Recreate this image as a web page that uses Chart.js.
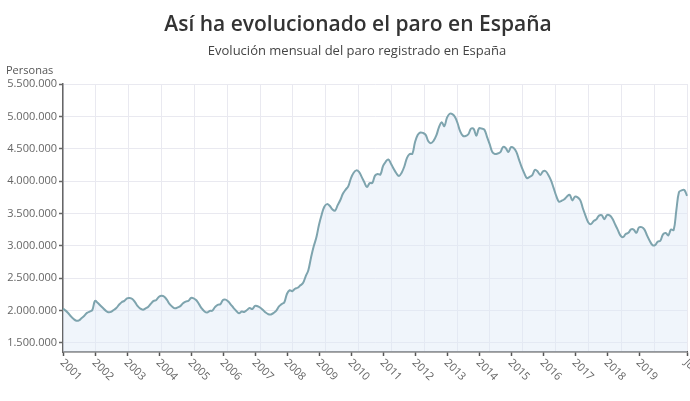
<!DOCTYPE html>
<html lang="es">
<head>
<meta charset="utf-8">
<script src="https://cdn.jsdelivr.net/npm/chart.js@4.4.1/dist/chart.umd.min.js"></script>
<style>
  html, body { margin: 0; padding: 0; background: #ffffff; }
  #wrap { position: relative; width: 690px; height: 401px; overflow: hidden; font-family: "Open Sans", "DejaVu Sans", sans-serif; }
  #c { position: absolute; left: 0; top: 0; }
  .title { position: absolute; left: 358px; top: 9px; transform: translateX(-50%); white-space: nowrap;
           font-size: 21px; line-height: 28px; font-weight: 600; color: #333; }
  .subtitle { position: absolute; left: 357px; top: 41px; transform: translateX(-50%); white-space: nowrap;
              font-size: 13px; line-height: 18px; color: #444; }
  .unit { position: absolute; left: 6px; top: 62px; font-size: 11px; line-height: 15px; color: #555; }
</style>
</head>
<body>
<div id="wrap">
  <canvas id="c" width="740" height="401"></canvas>
  <div class="title">Así ha evolucionado el paro en España</div>
  <div class="subtitle">Evolución mensual del paro registrado en España</div>
  <div class="unit">Personas</div>
</div>
<script>
// Paro registrado mensual (miles de personas), enero 2001 - julio 2020
const years = [2001,2002,2003,2004,2005,2006,2007,2008,2009,2010,2011,2012,2013,2014,2015,2016,2017,2018,2019,2020];
const monthNames = ['ene','feb','mar','abr','may','jun','jul','ago','sep','oct','nov','dic'];

const paro2001_2007 = [
  2030, 2000, 1960, 1910, 1870, 1845, 1850, 1885, 1920, 1965, 1985, 2010,
  2150, 2120, 2080, 2040, 2000, 1975, 1980, 2010, 2040, 2090, 2130, 2150,
  2190, 2195, 2180, 2130, 2070, 2030, 2015, 2035, 2060, 2110, 2150, 2165,
  2215, 2230, 2215, 2165, 2100, 2060, 2035, 2050, 2070, 2115, 2140, 2150,
  2195, 2190, 2160, 2100, 2035, 1990, 1970, 1995, 2000, 2055, 2090, 2100,
  2165, 2170, 2140, 2090, 2040, 1995, 1960, 1985, 1980, 2010, 2040, 2025,
  2075, 2067, 2045, 2010, 1970, 1945, 1940, 1965, 2000, 2065, 2100, 2130
];
const paro2008_2013 = [
  2261, 2315, 2300, 2338, 2353, 2390, 2426, 2530, 2625, 2818, 2989, 3128,
  3327, 3481, 3605, 3645, 3620, 3565, 3544, 3629, 3709, 3808, 3869, 3923,
  4048, 4130, 4166, 4142, 4066, 3982, 3908, 3969, 3972, 4085, 4110, 4100,
  4231, 4299, 4334, 4270, 4190, 4122, 4080, 4131, 4226, 4360, 4420, 4422,
  4599, 4712, 4751, 4744, 4714, 4615, 4587, 4626, 4705, 4833, 4908, 4849,
  4980, 5040, 5035, 4989, 4890, 4763, 4699, 4698, 4724, 4811, 4808, 4701
];
const paro2014_2020 = [
  4814, 4812, 4795, 4684, 4572, 4449, 4419, 4427, 4447, 4526, 4512, 4448,
  4525, 4512, 4452, 4333, 4215, 4120, 4046, 4067, 4094, 4176, 4149, 4094,
  4151, 4153, 4094, 4011, 3891, 3767, 3683, 3697, 3721, 3764, 3789, 3702,
  3760, 3750, 3702, 3573, 3461, 3362, 3336, 3383, 3410, 3467, 3474, 3413,
  3476, 3470, 3422, 3335, 3252, 3162, 3135, 3182, 3202, 3254, 3252, 3202,
  3285, 3289, 3255, 3163, 3079, 3015, 3011, 3065, 3079, 3177, 3198, 3163,
  3253, 3246, 3549, 3831, 3857, 3862, 3773
];
const paro = paro2001_2007.concat(paro2008_2013, paro2014_2020);

// month categories
const months = [];
years.forEach(y => monthNames.forEach(m => months.push(m + ' ' + y)));
months.length = paro.length;

// x tick labels (year starts + last month)
const xTickLabels = ['2001','2002','2003','2004','2005','2006','2007','2008','2009','2010',
                     '2011','2012','2013','2014','2015','2016','2017','2018','2019','Jul 2020'];
const xTickIndex = xTickLabels.map((l, i) => i < xTickLabels.length - 1 ? i * 12 : paro.length - 1);

// y ticks (miles)
const yTicks = [1500, 2000, 2500, 3000, 3500, 4000, 4500, 5000, 5500];

function fmt(v) {
  return String(Math.round(v * 1000)).replace(/\B(?=(\d{3})+(?!\d))/g, '.');
}

const rotLabels = {
  id: 'rotLabels',
  afterDraw(chart) {
    const sc = chart.scales.x;
    const ctx = chart.ctx;
    ctx.save();
    ctx.font = '11px "Open Sans", "DejaVu Sans", sans-serif';
    ctx.fillStyle = '#666';
    ctx.textAlign = 'left';
    ctx.textBaseline = 'middle';
    xTickIndex.forEach((idx, i) => {
      const px = sc.getPixelForValue(idx);
      ctx.save();
      ctx.translate(px - 1, sc.top + 9);
      ctx.rotate(Math.PI / 4);
      ctx.fillText(xTickLabels[i], 0, 0);
      ctx.restore();
    });
    ctx.restore();
  }
};

new Chart(document.getElementById('c'), {
  type: 'line',
  data: {
    labels: months,
    datasets: [{
      data: paro,
      borderColor: '#7ea4ae',
      borderWidth: 2,
      backgroundColor: 'rgba(222,233,246,0.45)',
      fill: 'start',
      tension: 0.4,
      pointRadius: 0,
      pointHoverRadius: 0
    }]
  },
  options: {
    responsive: false,
    devicePixelRatio: 1,
    animation: false,
    layout: { padding: { left: 0, top: 84, right: 53, bottom: 29 } },
    plugins: { legend: { display: false }, tooltip: { enabled: false }, title: { display: false } },
    scales: {
      x: {
        type: 'category',
        offset: false,
        position: 'bottom',
        afterBuildTicks: (s) => { s.ticks = xTickIndex.map(v => ({ value: v })); },
        afterFit: (s) => { s.height = 20; },
        ticks: { display: false, autoSkip: false },
        grid: { drawOnChartArea: false, drawTicks: true, tickLength: 4, tickColor: '#555', tickWidth: 1.5 },
        border: { display: true, color: '#555', width: 1.5 }
      },
      xg: {
        type: 'linear',
        position: 'top',
        min: 0,
        max: 19,
        afterBuildTicks: (s) => { s.ticks = years.slice(0, 20).map((y, i) => ({ value: i })); },
        afterFit: (s) => { s.height = 0; },
        ticks: { display: false },
        grid: { drawOnChartArea: true, drawTicks: false, color: '#e9e9f0', lineWidth: 1 },
        border: { display: false }
      },
      y: {
        type: 'linear',
        min: 1361,
        max: 5500,
        afterBuildTicks: (s) => { s.ticks = yTicks.map(v => ({ value: v })); },
        afterFit: (s) => { s.width = 63; },
        ticks: {
          callback: (v) => fmt(v),
          color: '#666',
          padding: 2,
          font: { family: '"Open Sans", "DejaVu Sans", sans-serif', size: 11 }
        },
        grid: { color: '#e9e9f0', lineWidth: 1, drawTicks: true, tickLength: 4, tickColor: '#666', tickWidth: 1.5 },
        border: { display: true, color: '#666', width: 1.5 }
      }
    }
  },
  plugins: [rotLabels]
});
</script>
</body>
</html>
